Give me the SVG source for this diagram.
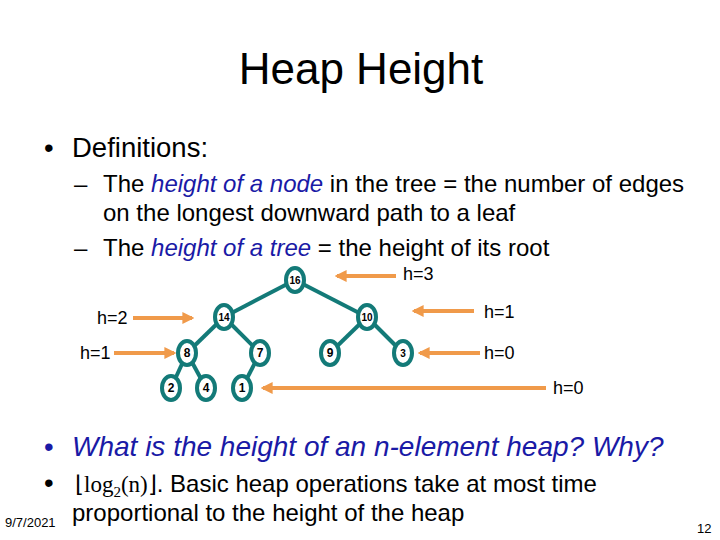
<svg xmlns="http://www.w3.org/2000/svg" width="720" height="540" viewBox="0 0 720 540">
<style>
text{font-family:"Liberation Sans",Arial,sans-serif;fill:#000}
.title{font-size:44px}
.l1{font-size:27.5px}
.l2{font-size:24px}
.em{fill:#1a1aa6;font-style:italic}
.h{font-size:18px}
.nd ellipse{fill:#fff;stroke:#137a78;stroke-width:4}
.nd text{font-size:12px;font-weight:bold;text-anchor:middle}
.nd text.s{font-size:10px}
.edges line{stroke:#137a78;stroke-width:4}
.arr line{stroke:#f09a4a;stroke-width:4}
</style>
<defs>
<marker id="ah" viewBox="0 0 10 10" refX="8" refY="5" markerWidth="3" markerHeight="3" orient="auto" markerUnits="strokeWidth">
<path d="M0,0 L10,5 L0,10 z" fill="#f09a4a"/>
</marker>
</defs>
<rect width="720" height="540" fill="#fff"/>
<text class="title" x="361" y="84" text-anchor="middle">Heap Height</text>
<text class="l1" x="44" y="157">•</text>
<text class="l1" x="72" y="157">Definitions:</text>
<text class="l2" x="74" y="192">–</text>
<text class="l2" x="103" y="192">The <tspan class="em">height of a node</tspan> in the tree = the number of edges</text>
<text class="l2" x="103" y="221">on the longest downward path to a leaf</text>
<text class="l2" x="74" y="256">–</text>
<text class="l2" x="103" y="256">The <tspan class="em">height of a tree</tspan> = the height of its root</text>

<g class="edges">
<line x1="295" y1="280" x2="224" y2="317"/>
<line x1="295" y1="280" x2="367" y2="317"/>
<line x1="224" y1="317" x2="187" y2="353"/>
<line x1="224" y1="317" x2="260" y2="353"/>
<line x1="367" y1="317" x2="330" y2="353"/>
<line x1="367" y1="317" x2="403" y2="353"/>
<line x1="187" y1="353" x2="171" y2="388"/>
<line x1="187" y1="353" x2="206" y2="388"/>
<line x1="260" y1="353" x2="242" y2="388"/>
</g>
<g class="arr">
<line x1="396" y1="276" x2="337" y2="276" marker-end="url(#ah)"/>
<line x1="133" y1="318" x2="192" y2="318" marker-end="url(#ah)"/>
<line x1="114" y1="353" x2="174" y2="353" marker-end="url(#ah)"/>
<line x1="474" y1="311" x2="414" y2="311" marker-end="url(#ah)"/>
<line x1="480" y1="353" x2="420" y2="353" marker-end="url(#ah)"/>
<line x1="546" y1="388" x2="263" y2="388" marker-end="url(#ah)"/>
</g>
<g id="n16" class="nd"><ellipse cx="295" cy="280" rx="9" ry="12"/><text class="s" x="295" y="284">16</text></g>
<g id="n14" class="nd"><ellipse cx="224" cy="317" rx="9" ry="12"/><text class="s" x="224" y="321">14</text></g>
<g id="n10" class="nd"><ellipse cx="367" cy="317" rx="9" ry="12"/><text class="s" x="367" y="321">10</text></g>
<g id="n8" class="nd"><ellipse cx="187" cy="353" rx="9" ry="12"/><text x="187" y="357">8</text></g>
<g id="n7" class="nd"><ellipse cx="260" cy="353" rx="9" ry="12"/><text x="260" y="357">7</text></g>
<g id="n9" class="nd"><ellipse cx="330" cy="353" rx="9" ry="12"/><text x="330" y="357">9</text></g>
<g id="n3" class="nd"><ellipse cx="403" cy="353" rx="9" ry="12"/><text class="s" x="403" y="357">3</text></g>
<g id="n2" class="nd"><ellipse cx="171" cy="388" rx="9" ry="12"/><text x="171" y="392">2</text></g>
<g id="n4" class="nd"><ellipse cx="206" cy="388" rx="9" ry="12"/><text x="206" y="392">4</text></g>
<g id="n1" class="nd"><ellipse cx="242" cy="388" rx="9" ry="12"/><text x="242" y="392">1</text></g>

<text class="h" x="403" y="280">h=3</text>
<text class="h" x="97" y="324">h=2</text>
<text class="h" x="80" y="359">h=1</text>
<text class="h" x="484" y="318">h=1</text>
<text class="h" x="484" y="359">h=0</text>
<text class="h" x="553" y="394">h=0</text>

<text class="l1" x="44" y="456" style="fill:#1a1aa6">•</text>
<text class="l1 em" x="72" y="456" style="font-size:28px">What is the height of an n-element heap? Why?</text>
<text class="l1" x="44" y="492">•</text>
<text x="75" y="492" style="font-size:24px"><tspan style="font-family:'Liberation Serif','Times New Roman',serif;font-size:23px">⌊log<tspan dy="5" font-size="15">2</tspan><tspan dy="-5">(n)⌋</tspan></tspan>. Basic heap operations take at most time</text>
<text x="72" y="521" style="font-size:24px">proportional to the height of the heap</text>
<text x="5" y="527" style="font-size:13px">9/7/2021</text>
<text x="697" y="533" style="font-size:13px">12</text>
</svg>
